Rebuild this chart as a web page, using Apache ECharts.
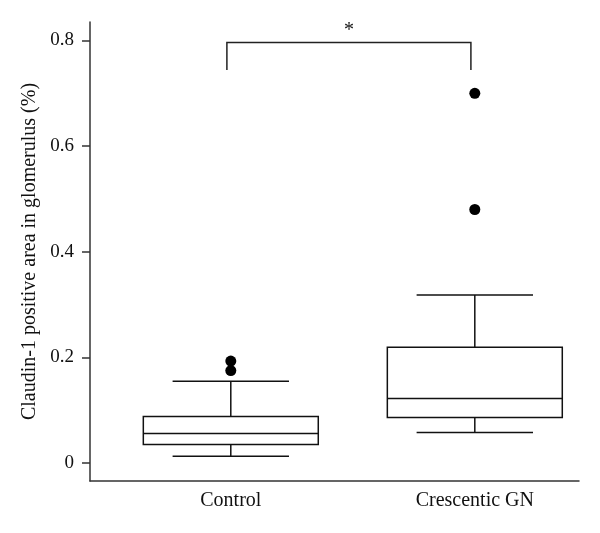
<!DOCTYPE html>
<html>
<head>
<meta charset="utf-8">
<script src="https://cdn.jsdelivr.net/npm/echarts@6/dist/echarts.min.js"></script>
<style>
  html, body { margin: 0; padding: 0; background: #fff; }
  #chart { width: 600px; height: 533px; }
</style>
</head>
<body>
<div id="chart"></div>
<script>
// box summaries: [whiskerLow, q1, median, q3, whiskerHigh]
const categories = ['Control', 'Crescentic GN']
const boxStats = [
  [0.013, 0.035, 0.056, 0.088, 0.155],
  [0.058, 0.086, 0.122, 0.219, 0.318]
]
// outliers: [categoryIndex, value]
const outliers = [
  [0, 0.193], [0, 0.175],
  [1, 0.700], [1, 0.480]
]
const yTicks = [0, 0.2, 0.4, 0.6, 0.8]
// significance bracket: [fromIndex, toIndex, topValue, legValue, label]
const bracket = [[0, 1, 0.796, 0.744, '*']]

const BOX_W = 0.717
const CAP_W = 0.477
const lineStyle = { stroke: '#111', lineWidth: 1.5, fill: 'none' }

const chart = echarts.init(document.getElementById('chart'))

const option = {
  animation: false,
  backgroundColor: '#fff',
  textStyle: { fontFamily: 'Liberation Serif, DejaVu Serif, serif' },
  grid: { left: 90, right: 21, top: 22, bottom: 52 },
  xAxis: {
    type: 'value',
    min: -0.577,
    max: 1.427,
    splitLine: { show: false },
    axisLine: { onZero: false, lineStyle: { color: '#333', width: 1.5 } },
    axisTick: { show: false },
    axisLabel: {
      customValues: [0, 1],
      formatter: v => categories[Math.round(v)],
      color: '#111',
      fontSize: 20,
      margin: 10,
      fontFamily: 'Liberation Serif, serif'
    }
  },
  yAxis: {
    type: 'value',
    min: -0.034,
    max: 0.835,
    splitLine: { show: false },
    axisLine: { show: true, onZero: false, lineStyle: { color: '#333', width: 1.5 } },
    axisTick: { show: true, customValues: yTicks, length: 8, lineStyle: { color: '#333', width: 1.5 } },
    axisLabel: {
      customValues: yTicks,
      formatter: v => (v === 0 ? '0' : v.toFixed(1)),
      color: '#111',
      fontSize: 19,
      margin: 16,
      fontFamily: 'Liberation Serif, serif'
    },
    name: 'Claudin-1 positive area in glomerulus (%)',
    nameLocation: 'middle',
    nameGap: 44,
    nameTextStyle: { color: '#111', fontSize: 20, fontFamily: 'Liberation Serif, serif' }
  },
  series: [
    {
      type: 'custom',
      data: boxStats.map((s, i) => [i, ...s]),
      renderItem(params, api) {
        const i = api.value(0)
        const lo = api.value(1), q1 = api.value(2), med = api.value(3), q3 = api.value(4), hi = api.value(5)
        const p = (x, y) => api.coord([x, y])
        const bl = p(i - BOX_W / 2, q3)
        const br = p(i + BOX_W / 2, q1)
        const seg = (a, b) => ({ type: 'line', shape: { x1: a[0], y1: a[1], x2: b[0], y2: b[1] }, style: lineStyle })
        return {
          type: 'group',
          children: [
            { type: 'rect', shape: { x: bl[0], y: bl[1], width: br[0] - bl[0], height: br[1] - bl[1] }, style: lineStyle },
            seg(p(i - BOX_W / 2, med), p(i + BOX_W / 2, med)),
            seg(p(i, q3), p(i, hi)),
            seg(p(i, q1), p(i, lo)),
            seg(p(i - CAP_W / 2, hi), p(i + CAP_W / 2, hi)),
            seg(p(i - CAP_W / 2, lo), p(i + CAP_W / 2, lo))
          ]
        }
      }
    },
    {
      type: 'scatter',
      data: outliers,
      symbol: 'circle',
      symbolSize: 11,
      itemStyle: { color: '#000', opacity: 1 }
    },
    {
      type: 'custom',
      data: bracket,
      renderItem(params, api) {
        const a = api.value(0) - 0.016, b = api.value(1) - 0.016
        const top = api.value(2), leg = api.value(3)
        const p1 = api.coord([a, leg]), p2 = api.coord([a, top])
        const p3 = api.coord([b, top]), p4 = api.coord([b, leg])
        const mid = api.coord([(a + b) / 2, top])
        return {
          type: 'group',
          children: [
            { type: 'polyline', shape: { points: [p1, p2, p3, p4] }, style: { stroke: '#222', lineWidth: 1.5, fill: 'none' } },
            { type: 'text', style: { text: bracket[params.dataIndex][4], x: mid[0], y: mid[1] - 2, align: 'center', verticalAlign: 'bottom', fill: '#111', font: '20px Liberation Serif, serif' } }
          ]
        }
      }
    }
  ]
}

chart.setOption(option)
</script>
</body>
</html>
